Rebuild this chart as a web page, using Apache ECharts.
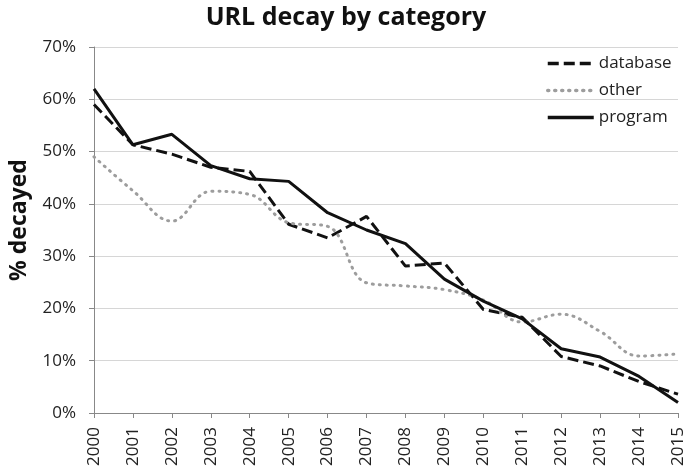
<!DOCTYPE html>
<html>
<head>
<meta charset="utf-8">
<script src="https://cdn.jsdelivr.net/npm/echarts@6/dist/echarts.min.js"></script>
<style>
  html, body { margin: 0; padding: 0; background: #fff; }
  #container { width: 692px; height: 470px; }
</style>
</head>
<body>
<div id="container"></div>
<script>
// years on the x axis
var years = ['2000','2001','2002','2003','2004','2005','2006','2007',
             '2008','2009','2010','2011','2012','2013','2014','2015'];

// % decayed per category
var database = [59.0, 51.3, 49.5, 47.0, 46.2, 36.1, 33.5, 37.6, 28.1, 28.7, 19.8, 18.3, 10.8, 9.0, 6.0, 3.6];
var other    = [49.0, 42.5, 36.7, 42.4, 41.8, 36.4, 35.7, 24.9, 24.3, 23.6, 21.6, 17.4, 18.9, 15.6, 10.9, 11.3];
var program  = [62.0, 51.3, 53.3, 47.3, 44.8, 44.3, 38.3, 35.0, 32.4, 25.6, 21.4, 18.0, 12.3, 10.7, 7.0, 2.0];

var dom = document.getElementById("container");
var myChart = echarts.init(dom);

var option = {
    animation: false,
    backgroundColor: '#fff',
    title: {
        text: 'URL decay by category',
        left: 'center',
        top: 0,
        textStyle: {
            fontFamily: 'Open Sans',
            fontWeight: 'bold',
            fontSize: 25,
            color: '#111'
        }
    },
    // y axis title, drawn as rotated text
    graphic: [{
        type: 'text',
        x: 19,
        y: 220,
        rotation: Math.PI / 2,
        style: {
            text: '% decayed',
            fontFamily: 'Open Sans',
            fontWeight: 'bold',
            fontSize: 23,
            fill: '#111',
            align: 'center',
            verticalAlign: 'middle'
        }
    }],
    legend: {
        orient: 'vertical',
        left: 541,
        top: 50,
        itemWidth: 46,
        itemHeight: 14,
        itemGap: 10,
        itemStyle: { opacity: 0 },
        lineStyle: { width: 3.5 },
        textStyle: { fontFamily: 'Open Sans', fontSize: 17, color: '#222' },
        data: ['database', 'other', 'program']
    },
    grid: {
        left: 94,
        right: 14,
        top: 47,
        bottom: 57,
        containLabel: false
    },
    xAxis: {
        type: 'category',
        data: years,
        boundaryGap: false,
        axisLine: { lineStyle: { color: '#888', width: 1 } },
        axisTick: { show: true, length: 5, lineStyle: { color: '#888' } },
        axisLabel: {
            rotate: 90,
            interval: 0,
            fontFamily: 'Open Sans',
            fontSize: 17,
            color: '#222',
            margin: 14
        },
        splitLine: { show: false }
    },
    yAxis: {
        type: 'value',
        min: 0,
        max: 70,
        interval: 10,
        axisLine: { show: true, lineStyle: { color: '#888', width: 1 } },
        axisTick: { show: true, length: 5, lineStyle: { color: '#888' } },
        axisLabel: {
            formatter: '{value}%',
            fontFamily: 'Open Sans',
            fontSize: 17,
            color: '#222',
            margin: 18
        },
        splitLine: { lineStyle: { color: '#d6d6d6', width: 1 } }
    },
    series: [
        {
            name: 'database',
            type: 'line',
            data: database,
            symbol: 'none',
            color: '#111',
            lineStyle: { color: '#111', width: 3, type: [11, 5] }
        },
        {
            name: 'other',
            type: 'line',
            data: other,
            symbol: 'none',
            smooth: 0.4,
            color: '#9d9d9d',
            lineStyle: { color: '#9d9d9d', width: 3, type: [1, 6], cap: 'round' }
        },
        {
            name: 'program',
            type: 'line',
            data: program,
            symbol: 'none',
            color: '#111',
            lineStyle: { color: '#111', width: 3 }
        }
    ]
};
myChart.setOption(option, true);
</script>
</body>
</html>
